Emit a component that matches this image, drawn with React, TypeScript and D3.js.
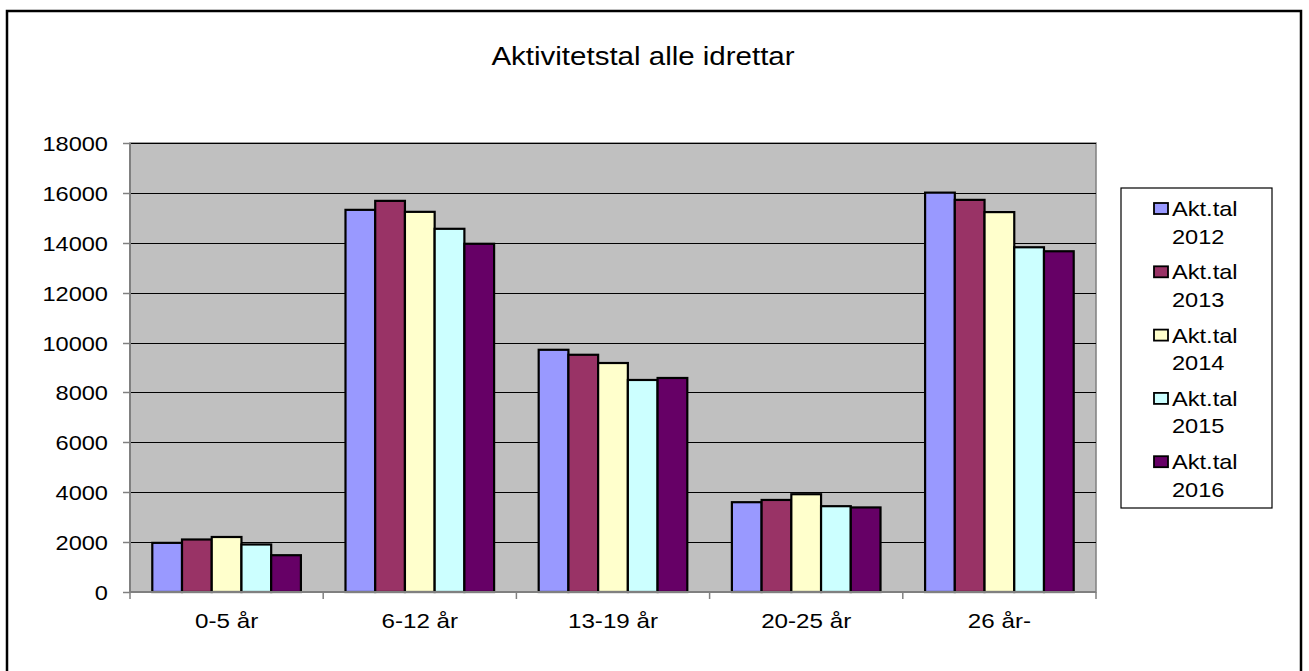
import React, { useEffect, useRef } from 'react';
import * as d3 from 'd3';

const categories = ['0-5 år', '6-12 år', '13-19 år', '20-25 år', '26 år-'];
const seriesNames = ['Akt.tal 2012', 'Akt.tal 2013', 'Akt.tal 2014', 'Akt.tal 2015', 'Akt.tal 2016'];
const seriesColors = ['#9999FF', '#993366', '#FFFFCC', '#CCFFFF', '#660066'];
const values2012 = [1970, 15320, 9710, 3600, 16010];
const values2013 = [2105, 15680, 9510, 3690, 15720];
const values2014 = [2205, 15240, 9180, 3920, 15230];
const values2015 = [1905, 14560, 8500, 3440, 13820];
const values2016 = [1475, 13960, 8580, 3390, 13660];
const yTicks = [0, 2000, 4000, 6000, 8000, 10000, 12000, 14000, 16000, 18000];
const title = 'Aktivitetstal alle idrettar';

const seriesValues = [values2012, values2013, values2014, values2015, values2016];

const W = 1309;
const H = 671;
const SX = 1.18; // the original is stretched horizontally
const FONT = '"Liberation Sans", Arial, sans-serif';

export default function App() {
  const svgRef = useRef<SVGSVGElement>(null);

  useEffect(() => {
    if (!svgRef.current) return;
    const svg = d3.select(svgRef.current);
    svg.selectAll('*').remove();

    const left = 130, right = 1096, top = 143, bottom = 592;

    // outer frame
    svg.append('rect').attr('x', 0).attr('y', 0).attr('width', W).attr('height', H).attr('fill', '#fff');
    svg.append('rect').attr('x', 7).attr('y', 11).attr('width', 1294).attr('height', 680)
      .attr('fill', 'none').attr('stroke', '#000').attr('stroke-width', 2.5);

    const x = d3.scaleBand<string>().domain(categories).range([left, right]).paddingInner(0).paddingOuter(0);
    const y = d3.scaleLinear().domain([0, 18000]).range([bottom, top]);
    const bw = x.bandwidth() / 6.5;
    const xs = d3.scaleBand<string>().domain(seriesNames).range([0.75 * bw, 5.75 * bw]);

    // plot area
    svg.append('rect').attr('x', left).attr('y', top).attr('width', right - left).attr('height', bottom - top)
      .attr('fill', '#C0C0C0').attr('stroke', '#808080').attr('stroke-width', 1.5);

    // gridlines
    svg.append('g').selectAll('line').data(yTicks.filter(t => t > 0)).enter().append('line')
      .attr('x1', left).attr('x2', right)
      .attr('y1', d => Math.round(y(d)) + 0.5).attr('y2', d => Math.round(y(d)) + 0.5)
      .attr('stroke', '#000').attr('stroke-width', 1);

    // bars
    seriesNames.forEach((s, si) => {
      svg.append('g').selectAll('rect').data(seriesValues[si]).enter().append('rect')
        .attr('x', (d, i) => (x(categories[i]) as number) + (xs(s) as number))
        .attr('y', d => y(d))
        .attr('width', xs.bandwidth())
        .attr('height', d => bottom - y(d))
        .attr('fill', seriesColors[si])
        .attr('stroke', '#000').attr('stroke-width', 2.2);
    });

    // y axis
    svg.append('line').attr('x1', left).attr('x2', left).attr('y1', top).attr('y2', bottom + 1)
      .attr('stroke', '#808080').attr('stroke-width', 2);
    const yg = svg.append('g');
    yg.selectAll('line').data(yTicks).enter().append('line')
      .attr('x1', left - 7).attr('x2', left)
      .attr('y1', d => Math.round(y(d)) + 0.5).attr('y2', d => Math.round(y(d)) + 0.5)
      .attr('stroke', '#808080').attr('stroke-width', 1.5);
    yg.selectAll('text').data(yTicks).enter().append('text')
      .attr('transform', d => `translate(108,${y(d) + 8}) scale(${SX},1)`)
      .attr('text-anchor', 'end').attr('font-family', FONT).attr('font-size', 20).attr('fill', '#000')
      .text(d => String(d));

    // x axis
    svg.append('line').attr('x1', left).attr('x2', right).attr('y1', bottom).attr('y2', bottom)
      .attr('stroke', '#808080').attr('stroke-width', 2);
    const xb = [...categories.map(c => x(c) as number), right];
    svg.append('g').selectAll('line').data(xb).enter().append('line')
      .attr('x1', d => d).attr('x2', d => d).attr('y1', bottom).attr('y2', bottom + 7)
      .attr('stroke', '#808080').attr('stroke-width', 1.5);
    svg.append('g').selectAll('text').data(categories).enter().append('text')
      .attr('transform', d => `translate(${(x(d) as number) + x.bandwidth() / 2},628) scale(${SX},1)`)
      .attr('text-anchor', 'middle').attr('font-family', FONT).attr('font-size', 20.5).attr('fill', '#000')
      .text(d => d);

    // title
    svg.append('text').attr('transform', `translate(643,65) scale(${SX},1)`)
      .attr('text-anchor', 'middle').attr('font-family', FONT).attr('font-size', 25).attr('fill', '#000')
      .text(title);

    // legend
    const lg = svg.append('g');
    lg.append('rect').attr('x', 1121).attr('y', 188).attr('width', 151).attr('height', 320)
      .attr('fill', '#fff').attr('stroke', '#000').attr('stroke-width', 1.2);
    seriesNames.forEach((s, i) => {
      const by = 216 + i * 63.3;
      const [a, b] = s.split(' ');
      lg.append('rect').attr('x', 1154).attr('y', by - 13).attr('width', 14).attr('height', 11)
        .attr('fill', seriesColors[i]).attr('stroke', '#000').attr('stroke-width', 1.8);
      lg.append('text').attr('transform', `translate(1172,${by}) scale(${SX},1)`)
        .attr('font-family', FONT).attr('font-size', 20).attr('fill', '#000').text(a);
      lg.append('text').attr('transform', `translate(1172,${by + 27.5}) scale(${SX},1)`)
        .attr('font-family', FONT).attr('font-size', 20).attr('fill', '#000').text(b);
    });
  }, []);

  return (
    <svg ref={svgRef} width={W} height={H} viewBox={`0 0 ${W} ${H}`}
      style={{ position: 'fixed', left: 0, top: 0, display: 'block' }} />
  );
}
